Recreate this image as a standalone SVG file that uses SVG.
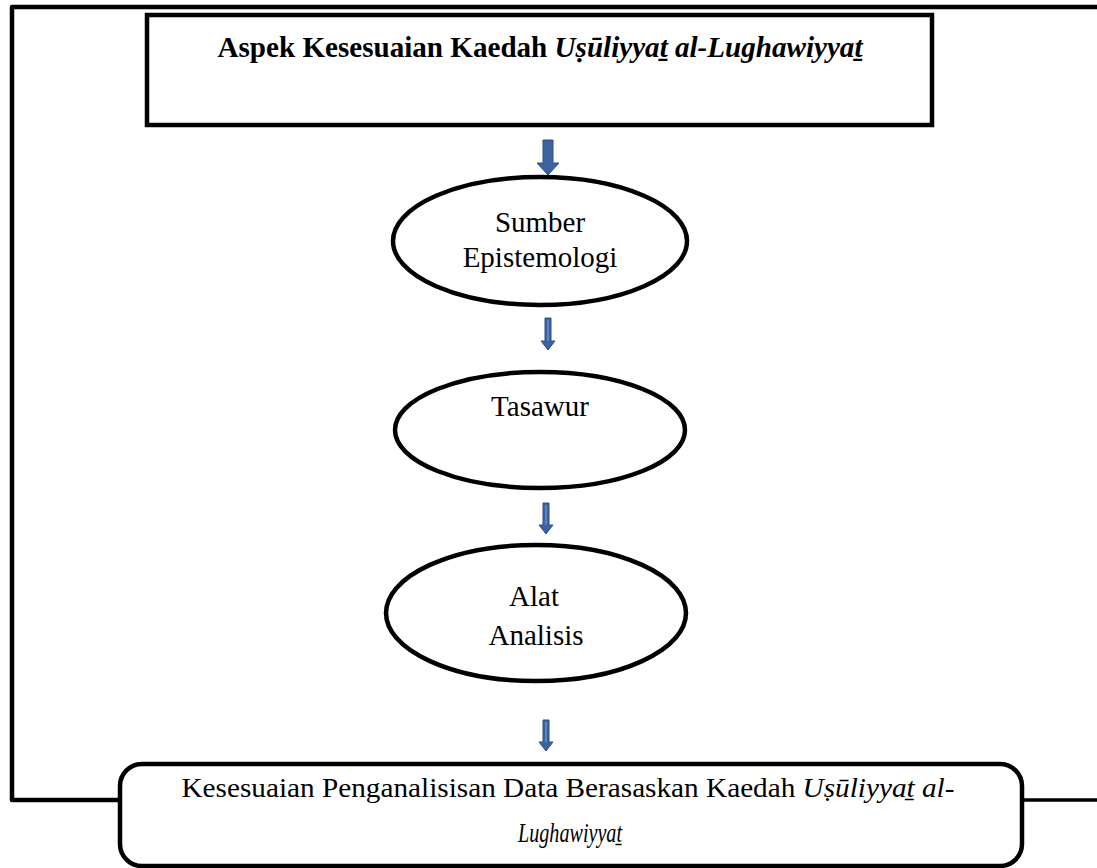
<svg xmlns="http://www.w3.org/2000/svg" width="1097" height="868" viewBox="0 0 1097 868">
<defs>
<style>
.frame{fill:none;stroke:#000;stroke-width:4.5;stroke-linejoin:round}
.node{fill:#fff;stroke:#000;stroke-width:4.5}
.txt{font-family:"Liberation Serif","Times New Roman",serif;fill:#000;text-anchor:middle}
.arr{fill:#3c62a0;stroke:#2f4f86;stroke-width:1}
.stripe{fill:#5a83c4}
</style>
</defs>
<rect width="1097" height="868" fill="#fff"/>
<g id="connectors">
<path class="frame" d="M1097 7 H12 V800 H120"/>
<path class="frame" d="M1022 800 H1097" style="stroke-width:3.5"/>
<path class="arr" d="M543 140 H553 V163 H559 L548 175 L537 163 H543 Z"/>
<path class="arr" d="M545 318 H551 V341 H555 L548 350 L541 341 H545 Z"/>
<rect class="stripe" x="547" y="320" width="2" height="21"/>
<path class="arr" d="M543 503 H549 V525 H553 L546 534 L539 525 H543 Z"/>
<rect class="stripe" x="545" y="505" width="2" height="20"/>
<path class="arr" d="M543 720 H549 V742 H553 L546 751 L539 742 H543 Z"/>
<rect class="stripe" x="545" y="722" width="2" height="20"/>
</g>
<g id="title">
<rect class="node" x="147" y="15" width="785" height="110"/>
<text class="txt" x="540" y="57" font-size="29" font-weight="bold" textLength="645" lengthAdjust="spacingAndGlyphs">Aspek Kesesuaian Kaedah <tspan font-style="italic">Uṣūliyyaṯ al-Lughawiyyaṯ</tspan></text>
</g>
<g id="sumber">
<ellipse class="node" cx="540" cy="241" rx="147" ry="64"/>
<text class="txt" x="540" y="232" font-size="29">Sumber</text>
<text class="txt" x="540" y="267" font-size="29">Epistemologi</text>
</g>
<g id="tasawur">
<ellipse class="node" cx="540" cy="430" rx="145" ry="58"/>
<text class="txt" x="540" y="416" font-size="29">Tasawur</text>
</g>
<g id="alat">
<ellipse class="node" cx="536" cy="613" rx="150" ry="68"/>
<text class="txt" x="534" y="606" font-size="29">Alat</text>
<text class="txt" x="536" y="645" font-size="29">Analisis</text>
</g>
<g id="kesesuaian">
<rect class="node" x="120" y="764" width="902" height="102" rx="22"/>
<text class="txt" x="568" y="797" font-size="28" textLength="773" lengthAdjust="spacingAndGlyphs">Kesesuaian Penganalisisan Data Berasaskan Kaedah <tspan font-style="italic">Uṣūliyyaṯ al-</tspan></text>
<text class="txt" x="570" y="842" font-size="28" font-style="italic" textLength="104" lengthAdjust="spacingAndGlyphs">Lughawiyyaṯ</text>
</g>
</svg>
